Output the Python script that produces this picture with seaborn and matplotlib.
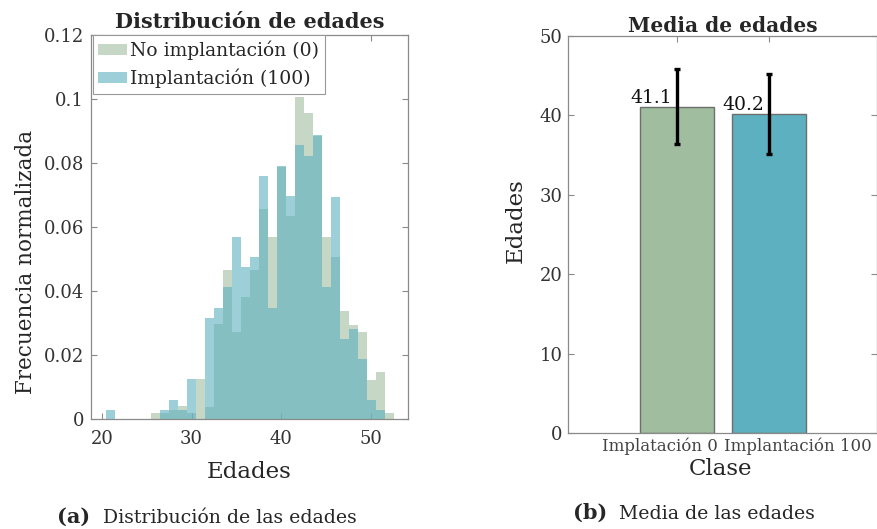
import numpy as np
import matplotlib
matplotlib.use("Agg")
import matplotlib.pyplot as plt
import seaborn as sns
from matplotlib.patches import Patch
from matplotlib.ticker import FuncFormatter

# Normalised age frequencies per group (one-year bins centred on each age)
ages = np.arange(21, 53)
freq_no_impl = [0.0, 0.0, 0.0, 0.0, 0.0, 0.0019, 0.0019, 0.0029, 0.0040, 0.0019,
                0.0125, 0.0039, 0.0297, 0.0466, 0.0273, 0.0380, 0.0466, 0.0657,
                0.0570, 0.0787, 0.0635, 0.1006, 0.0956, 0.0885, 0.0570, 0.0507,
                0.0336, 0.0295, 0.0273, 0.0123, 0.0146, 0.0018]
freq_impl = [0.0029, 0.0, 0.0, 0.0, 0.0, 0.0, 0.0029, 0.0060, 0.0029, 0.0125,
             0.0, 0.0316, 0.0347, 0.0411, 0.0569, 0.0474, 0.0505, 0.0760,
             0.0347, 0.0792, 0.0696, 0.0857, 0.0823, 0.0888, 0.0411, 0.0695,
             0.0250, 0.0282, 0.0188, 0.0060, 0.0029, 0.0]
legend_labels = ["No implantación (0)", "Implantación (100)"]

# Mean age per class with its standard deviation
group_labels = ["Implatación 0", "Implantación 100"]
mean_age = [41.1, 40.2]
std_age = [4.7, 5.0]

hist_ticks_x = [20, 30, 40, 50]
hist_ticks_y = [0, 0.02, 0.04, 0.06, 0.08, 0.10, 0.12]
bar_ticks_y = [0, 10, 20, 30, 40, 50]

green = "#a0bda0"
blue = "#5cb0bf"
spine_col = "#8a8a8a"

sns.set_theme(style="white")
plt.rcParams["font.family"] = ["DejaVu Serif"]

W, H = 878, 529
fig = plt.figure(figsize=(W / 100, H / 100), dpi=100)
ax1 = fig.add_axes([91 / W, 1 - 419 / H, 317 / W, 384 / H])
ax2 = fig.add_axes([568 / W, 1 - 433 / H, 309.5 / W, 397 / H])

# --- (a) overlaid histograms ---
sns.histplot(x=ages, weights=freq_no_impl, discrete=True, color=green,
             alpha=0.6, edgecolor="none", linewidth=0, ax=ax1)
sns.histplot(x=ages, weights=freq_impl, discrete=True, color=blue,
             alpha=0.6, edgecolor="none", linewidth=0, ax=ax1)
ax1.set_xlim(18.8, 54.1)
ax1.set_ylim(0, 0.12)
ax1.set_xticks(hist_ticks_x)
ax1.set_yticks(hist_ticks_y)
ax1.yaxis.set_major_formatter(FuncFormatter(lambda v, _: f"{v:g}"))
ax1.set_title("Distribución de edades", fontsize=15, fontweight="bold", pad=5)
ax1.set_xlabel("Edades", fontsize=16.5)
ax1.set_ylabel("Frecuencia normalizada", fontsize=15.5)
ax1.xaxis.set_label_coords(0.5, -0.109)
ax1.yaxis.set_label_coords(-0.17, 0.41)
handles = [Patch(facecolor=green, alpha=0.6, edgecolor="none"),
           Patch(facecolor=blue, alpha=0.6, edgecolor="none")]
leg = ax1.legend(handles, legend_labels, loc="upper left",
                 bbox_to_anchor=(0.005, 1.0), borderaxespad=0, fontsize=13.5,
                 fancybox=False, framealpha=1, edgecolor="#999999",
                 handlelength=1.55, handleheight=0.57, handletextpad=0.15,
                 labelspacing=0.45, borderpad=0.3)
leg.get_frame().set_linewidth(0.8)
ax1.tick_params(axis="x", pad=8)
ax1.tick_params(axis="y", pad=5)

# --- (b) mean age bars with standard deviation ---
sns.barplot(x=group_labels, y=mean_age, hue=group_labels,
            palette=[green, blue], saturation=1, legend=False, width=0.8,
            edgecolor="#6e6e6e", linewidth=1, errorbar=None, ax=ax2)
pos = np.arange(len(group_labels))
ax2.errorbar(pos, mean_age, yerr=std_age, fmt="none", ecolor="black",
             elinewidth=2.4, capsize=2.5, capthick=2.4, zorder=5)
for p, m in zip(pos, mean_age):
    ax2.text(p - 0.05, m, f"{m:.1f}", ha="right", va="bottom",
             fontsize=13.5, color="#111111")
ax2.set_xlim(-1.18, 2.18)
ax2.set_ylim(0, 50)
ax2.set_yticks(bar_ticks_y)
ax2.set_title("Media de edades", fontsize=14.5, fontweight="bold", pad=3)
ax2.set_xlabel("Clase", fontsize=16.5)
ax2.set_ylabel("Edades", fontsize=16.5)
ax2.xaxis.set_label_coords(0.494, -0.063)
ax2.yaxis.set_label_coords(-0.132, 0.534)

# tick marks at the bar centres; class names spread apart so they sit side by side
ax2.set_xticks(pos, labels=["", ""])
ax2.set_xticks(pos + np.array([-0.18, 0.32]), labels=group_labels, minor=True)
ax2.tick_params(axis="x", which="minor", length=0, pad=3, labelsize=12,
                labelcolor="#444444")
ax2.tick_params(axis="y", pad=4)

for ax in (ax1, ax2):
    ax.tick_params(direction="in", length=4, width=0.8, color=spine_col,
                   bottom=True, left=True, top=True, right=True, which="major")
    ax.tick_params(axis="y", labelsize=13, labelcolor="#333333")
    for s in ax.spines.values():
        s.set_visible(True)
        s.set_color(spine_col)
        s.set_linewidth(0.9)
ax1.tick_params(axis="x", labelsize=13, labelcolor="#333333")

# Sub-figure captions
base_a = 1 - 523 / H
fig.text(90 / W, base_a, "(a)", ha="right", va="baseline", fontsize=15,
         fontweight="bold")
fig.text(103 / W, base_a, "Distribución de las edades", ha="left",
         va="baseline", fontsize=13.6)
base_b = 1 - 519 / H
fig.text(607 / W, base_b, "(b)", ha="right", va="baseline", fontsize=15,
         fontweight="bold")
fig.text(619 / W, base_b, "Media de las edades", ha="left", va="baseline",
         fontsize=13.6)

fig.savefig("out.png", dpi=100)
